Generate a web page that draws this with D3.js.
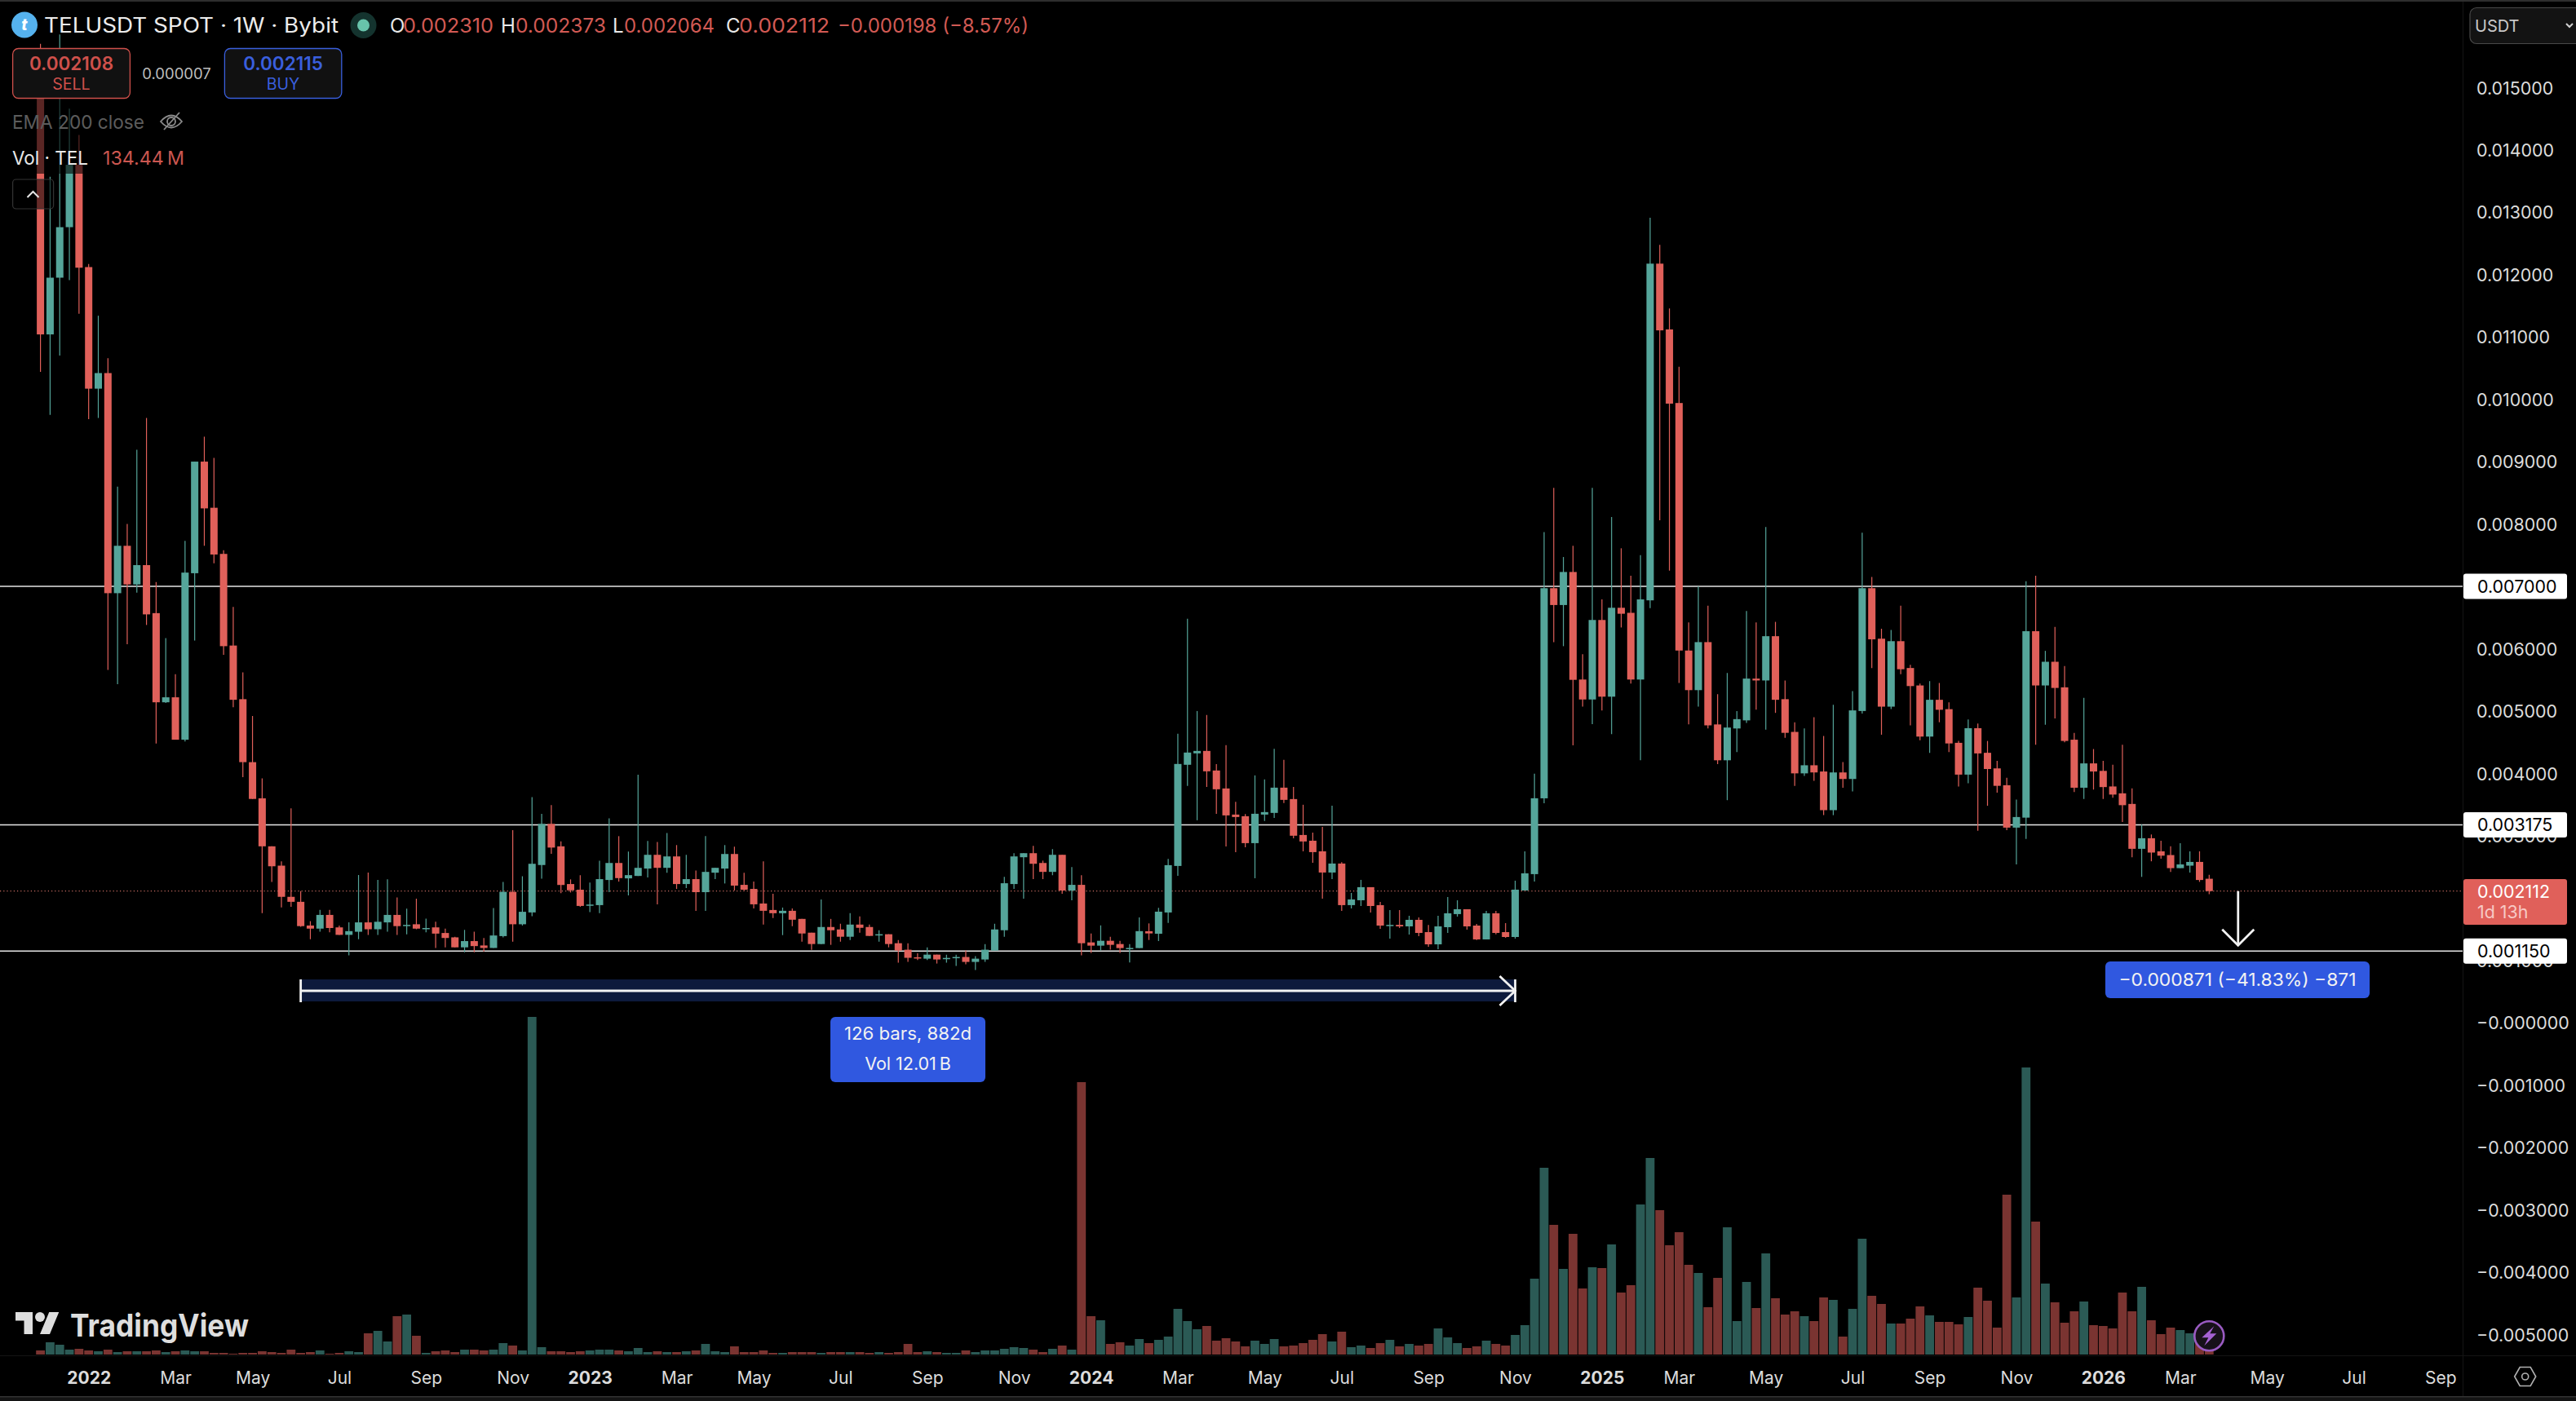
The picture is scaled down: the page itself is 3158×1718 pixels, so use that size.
<!DOCTYPE html>
<html><head><meta charset="utf-8">
<style>html,body{margin:0;padding:0;background:#000}svg{display:block}text{font-family:Inter,"Noto Sans",sans-serif}</style>
<script src="https://cdn.jsdelivr.net/npm/d3@7"></script>
</head><body><svg id="c" width="3158" height="1718"></svg>
<script>
// prices in thousandths of a USDT (0.001), one weekly bar each
const firstWeek = "2021-11-29", lastWeek = "2026-03-23";
const opens = [
15.48,11.04,11.95,12.76,13.76,12.12,10.17,10.42,6.89,7.65,
7.03,7.34,6.57,5.14,5.22,4.54,7.21,9.00,8.26,7.52,
6.05,5.19,4.18,3.60,2.83,2.52,2.02,1.94,1.56,1.51,
1.73,1.53,1.41,1.46,1.61,1.50,1.61,1.73,1.56,1.58,
1.51,1.53,1.44,1.37,1.21,1.31,1.24,1.20,1.39,2.10,
1.58,1.77,2.53,3.19,2.83,2.225,2.134,1.88,1.887,2.29,
2.563,2.316,2.355,2.473,2.694,2.485,2.668,2.225,2.304,2.095,
2.407,2.473,2.707,2.212,2.147,1.913,1.809,1.757,1.796,1.666,
1.445,1.263,1.536,1.497,1.38,1.575,1.536,1.41,1.42,1.276,
1.172,1.05,1.028,1.093,1.02,1.05,1.055,0.976,1.015,1.159,
1.484,2.225,2.655,2.72,2.563,2.42,2.694,2.121,2.212,1.289,
1.237,1.315,1.263,1.19,1.198,1.468,1.428,1.769,2.515,4.138,
4.321,4.36,4.046,3.758,3.339,3.313,2.881,3.339,3.366,3.771,
3.588,3.012,2.92,2.75,2.41,2.554,1.887,1.965,2.175,1.887,
1.56,1.57,1.546,1.651,1.454,1.258,1.533,1.743,1.821,1.559,
1.337,1.756,1.454,1.376,2.122,2.384,3.60,6.97,6.70,7.23,
5.505,5.185,6.46,5.23,6.656,6.575,5.505,6.775,12.175,11.12,
9.94,5.97,5.335,6.105,4.785,4.21,4.72,4.85,5.52,5.49,
6.2,5.19,4.665,4.0,4.13,4.03,3.41,4.015,3.91,5.0,
6.97,6.16,5.07,6.12,5.69,5.41,4.59,5.18,5.03,4.49,
3.98,4.725,4.33,4.08,3.81,3.13,3.29,6.28,5.41,5.79,
5.38,4.54,3.77,4.16,4.04,3.79,3.68,3.51,2.79,2.96,
2.75,2.69,2.48,2.52,2.58,2.31];
const closes = [
11.04,11.95,12.76,13.76,12.11,10.17,10.42,6.89,7.65,7.03,
7.34,6.55,5.14,5.22,4.54,7.22,9.00,8.25,7.51,6.04,
5.18,4.18,3.59,2.83,2.51,2.02,1.94,1.55,1.51,1.73,
1.52,1.41,1.47,1.61,1.50,1.62,1.73,1.55,1.57,1.51,
1.52,1.43,1.36,1.21,1.31,1.23,1.20,1.40,2.10,1.58,
1.78,2.55,3.19,2.81,2.21,2.125,1.874,1.896,2.304,2.563,
2.32,2.368,2.485,2.694,2.485,2.668,2.225,2.304,2.095,2.42,
2.485,2.707,2.2,2.134,1.90,1.796,1.757,1.796,1.653,1.432,
1.263,1.536,1.484,1.38,1.575,1.523,1.393,1.42,1.263,1.159,
1.042,1.04,1.093,1.015,1.04,1.055,0.976,1.028,1.172,1.497,
2.238,2.668,2.72,2.55,2.42,2.694,2.121,2.212,1.276,1.237,
1.315,1.25,1.198,1.20,1.47,1.433,1.782,2.528,4.151,4.334,
4.36,4.033,3.745,3.326,3.30,2.881,3.352,3.379,3.771,3.575,
3.0,2.908,2.737,2.41,2.554,1.887,1.978,2.175,1.873,1.559,
1.57,1.546,1.651,1.441,1.258,1.546,1.756,1.821,1.546,1.337,
1.756,1.441,1.376,2.135,2.397,3.601,6.97,6.70,7.23,5.50,
5.185,6.46,5.23,6.656,6.56,5.505,6.79,12.175,11.105,9.93,
5.97,5.335,6.105,4.77,4.21,4.735,4.87,5.52,5.49,6.2,
5.18,4.65,4.0,4.13,4.015,3.41,4.015,3.91,5.01,6.97,
6.15,5.07,6.12,5.67,5.40,4.59,5.18,5.02,4.48,3.98,
4.725,4.32,4.07,3.80,3.13,3.30,6.28,5.41,5.79,5.37,
4.52,3.77,4.16,4.03,3.78,3.66,3.49,2.79,2.96,2.73,
2.68,2.48,2.54,2.58,2.29,2.112];
const highs = [
15.70,13.57,15.85,14.66,14.24,12.17,11.34,10.66,8.60,8.00,
9.19,9.70,7.07,6.17,5.59,7.73,9.00,9.40,9.06,7.58,
6.67,5.62,4.92,3.92,2.83,2.59,3.44,2.11,1.63,1.81,
1.81,1.56,1.61,2.37,2.41,2.29,2.30,2.01,1.83,1.99,
1.67,1.62,1.51,1.38,1.49,1.46,1.36,1.84,2.26,3.09,
2.35,3.62,3.35,3.49,2.91,2.30,2.368,2.25,2.60,3.28,
2.993,2.746,3.98,2.915,2.90,3.045,2.85,2.694,2.442,2.993,
2.485,2.85,2.824,2.407,2.264,2.59,2.07,1.848,1.835,1.666,
1.445,1.978,1.666,1.588,1.757,1.705,1.575,1.484,1.42,1.328,
1.276,1.115,1.21,1.093,1.093,1.093,1.159,1.067,1.263,1.588,
2.342,2.72,2.72,2.837,2.60,2.785,2.694,2.499,2.368,1.432,
1.562,1.38,1.315,1.263,1.69,1.594,1.843,2.628,4.635,6.48,
5.0,4.936,4.147,4.452,3.544,3.348,3.968,3.903,4.395,4.216,
3.784,3.497,3.051,3.143,3.483,2.576,2.083,2.292,2.175,1.939,
1.808,1.808,1.716,1.69,1.57,1.716,2.017,1.965,1.821,1.585,
1.795,1.795,1.599,2.279,2.75,3.994,7.87,8.58,7.47,7.65,
5.91,8.58,6.79,8.11,7.61,7.17,7.50,12.91,12.475,11.455,
10.52,6.42,7.0,6.69,5.27,5.61,5.0,6.605,6.42,7.95,
6.43,5.49,4.82,4.72,4.90,4.60,5.10,4.18,5.32,7.86,
7.15,6.32,6.30,6.69,5.74,5.44,5.48,5.45,5.14,4.52,
4.865,4.80,4.52,4.20,3.93,3.58,7.08,7.17,5.965,6.35,
5.72,4.65,5.21,4.39,4.20,4.14,4.46,3.76,3.18,3.02,
2.92,2.83,2.88,2.75,2.75,2.373];
const lows = [
10.44,9.75,10.70,11.91,11.37,9.68,9.70,5.66,5.43,6.07,
6.90,6.38,4.48,5.13,4.54,4.51,6.13,7.65,7.37,5.90,
5.06,3.94,3.59,1.76,2.26,1.85,1.86,1.54,1.34,1.46,
1.45,1.41,1.08,1.34,1.41,1.41,1.46,1.41,1.42,1.50,
1.45,1.20,1.21,1.21,1.13,1.13,1.14,1.20,1.37,1.30,
1.56,1.71,2.31,2.71,2.08,2.09,1.86,1.774,1.757,2.095,
2.264,2.043,2.355,2.33,1.90,2.407,2.147,2.16,1.796,1.796,
2.304,2.234,2.12,2.12,1.835,1.575,1.679,1.406,1.549,1.302,
1.171,1.263,1.25,1.302,1.328,1.445,1.393,1.302,1.21,0.963,
0.976,1.006,1.006,0.95,0.963,0.91,0.937,0.846,0.976,1.159,
1.38,2.147,1.99,2.304,2.304,2.368,2.07,1.965,1.08,1.12,
1.159,1.172,1.12,0.966,1.198,1.328,1.31,1.60,2.358,3.798,
3.248,3.784,3.352,2.829,2.737,2.816,2.318,3.235,3.287,3.523,
2.96,2.75,2.567,1.991,2.305,1.795,1.834,1.873,1.769,1.507,
1.35,1.52,1.415,1.389,1.219,1.18,1.442,1.703,1.494,1.328,
1.337,1.42,1.363,1.35,2.122,2.266,3.52,6.105,6.04,4.45,
5.07,4.79,5.01,4.63,6.34,5.44,4.21,6.65,8.06,7.25,
5.45,4.785,5.07,4.72,4.15,3.57,4.34,4.81,5.02,4.70,
4.97,4.57,3.80,3.96,3.88,3.33,3.33,3.77,3.71,4.96,
5.69,4.62,5.03,5.59,4.77,4.53,4.33,4.82,4.34,3.79,
3.84,3.08,3.48,3.69,3.09,2.54,2.95,4.46,4.78,4.88,
4.50,3.70,3.59,3.74,3.59,3.61,3.22,2.655,2.34,2.59,
2.63,2.42,2.48,2.41,2.26,2.064];
// traded volume, millions of TEL
const volumes = [
35,105,84,42,49,35,28,42,21,28,
28,28,35,21,28,35,28,28,14,14,
7,14,14,28,21,14,42,14,21,35,
7,14,28,21,182,203,112,329,343,161,
14,28,35,21,42,42,35,42,98,77,
35,2898,63,28,28,21,28,35,42,42,
35,28,56,21,28,21,21,28,35,91,
28,21,70,21,21,35,14,14,21,21,
21,14,21,21,21,21,14,21,14,21,
91,21,28,21,14,14,35,21,35,35,
49,63,56,42,21,49,77,42,2338,329,
294,91,105,77,133,98,126,154,392,287,
217,245,119,140,112,70,119,91,133,70,
77,98,126,175,112,196,63,77,56,98,
126,70,91,77,91,224,147,98,56,70,
119,91,77,168,252,651,1603,1113,735,1036,
567,749,742,945,532,595,1288,1687,1239,938,
1050,770,700,406,658,1092,287,623,399,868,
483,343,371,329,287,490,469,154,392,994,
504,434,266,266,308,413,336,280,280,259,
322,574,462,231,1372,490,2464,1141,609,448,
273,371,455,252,245,224,532,371,581,294,
175,231,210,182,112,134];
// 0.007000 and 0.002000 sit wholly behind the price tags, so they are not listed
const priceTicks = [15,14,13,12,11,10,9,8,6,5,4,3,1,0,-1,-2,-3,-4,-5];
const levels = [7.0,3.175,1.15];
const lastPrice = 2.112;
const timeTickDates = ["2022-01-03","2022-03-07","2022-05-02","2022-07-04","2022-09-05","2022-11-07","2023-01-02","2023-03-06","2023-05-01","2023-07-03","2023-09-04","2023-11-06","2024-01-01","2024-03-04","2024-05-06","2024-07-01","2024-09-02","2024-11-04","2025-01-06","2025-03-03","2025-05-05","2025-07-07","2025-09-01","2025-11-03","2026-01-05","2026-03-02","2026-05-04","2026-07-06","2026-09-07"];
const timeTickLabels = ["2022","Mar","May","Jul","Sep","Nov","2023","Mar","May","Jul","Sep","Nov","2024","Mar","May","Jul","Sep","Nov","2025","Mar","May","Jul","Sep","Nov","2026","Mar","May","Jul","Sep"];
const rangeStart = "2022-06-06", rangeEnd = "2024-11-04"; // 126 bars
const arrowWeek = "2026-04-13";
const arrowFrom = 2.112, arrowTo = 1.241;

const RED="#e0605a", GREEN="#55a59a", VRED="#7a3431", VGREEN="#2b5a55";
const svg=d3.select("#c");
const W=3158,H=1718,AX=3019;
svg.append("rect").attr("width",W).attr("height",H).attr("fill","#000");

const parse=d3.utcParse("%Y-%m-%d");
const x=d3.scaleUtc().domain([parse(firstWeek),parse(lastWeek)]).range([49.6,2708.3]);
const y=d3.scaleLinear().domain([-5,15]).range([1636.5,107.3]);
const yv=d3.scaleLinear().domain([0,3500]).range([1661,1161]);
const bars=opens.map((o,i)=>({t:d3.utcWeek.offset(parse(firstWeek),i),o,c:closes[i],h:highs[i],l:lows[i],v:volumes[i]}));

// frame
svg.append("rect").attr("width",W).attr("height",2).attr("fill","#2e2e2e");
svg.append("rect").attr("y",1712).attr("width",W).attr("height",6).attr("fill","#141414");
svg.append("rect").attr("y",1712).attr("width",W).attr("height",1.5).attr("fill","#333");
svg.append("rect").attr("x",AX).attr("width",1).attr("y",2).attr("height",1710).attr("fill","#141414");
svg.append("rect").attr("y",1662).attr("width",W).attr("height",1).attr("fill","#141414");

// price axis
const yAxis=d3.axisRight(y).tickValues(priceTicks).tickSize(0).tickPadding(0)
  .tickFormat(v=>v>0?(v/1000).toFixed(6):"\u2212"+Math.abs(v/1000).toFixed(6));
const ga=svg.append("g").attr("transform","translate(3036,0)").call(yAxis);
ga.select(".domain").remove();
ga.selectAll("text").attr("dy","0.36em").attr("fill","#dcdcdc").attr("font-size",21.4).attr("font-family","Inter");

// time axis
const labelOf=new Map(timeTickDates.map((d,i)=>[+parse(d),timeTickLabels[i]]));
const xAxis=d3.axisBottom(x).tickValues(timeTickDates.map(parse)).tickSize(0).tickPadding(0)
  .tickFormat(d=>labelOf.get(+d));
const gx=svg.append("g").attr("transform","translate(0,1689)").call(xAxis);
gx.select(".domain").remove();
gx.selectAll("text").attr("dy","0.36em").attr("fill","#dcdcdc").attr("font-size",21).attr("font-family","Inter")
  .attr("font-weight",function(){return /^\d/.test(this.textContent)?700:400});

// level lines and last price
svg.append("g").selectAll("line").data(levels).join("line")
  .attr("x1",0).attr("x2",AX).attr("y1",y).attr("y2",y).attr("stroke","#e6e6e6").attr("stroke-width",1.6);
svg.append("line").attr("x1",0).attr("x2",AX).attr("y1",y(lastPrice)).attr("y2",y(lastPrice))
  .attr("stroke","#c4695f").attr("stroke-width",1.2).attr("stroke-dasharray","1.2 3");

// volume
svg.append("g").selectAll("rect").data(bars).join("rect")
  .attr("x",d=>x(d.t)-5.4).attr("width",10.8)
  .attr("y",d=>yv(d.v)).attr("height",d=>yv(0)-yv(d.v))
  .attr("fill",d=>d.c>=d.o?VGREEN:VRED);

// wicks
svg.append("g").selectAll("line").data(bars).join("line")
  .attr("x1",d=>x(d.t)).attr("x2",d=>x(d.t)).attr("y1",d=>y(d.h)).attr("y2",d=>y(d.l))
  .attr("stroke",d=>d.c>=d.o?GREEN:RED).attr("stroke-width",1.2);
// bodies
svg.append("g").selectAll("rect").data(bars).join("rect")
  .attr("x",d=>x(d.t)-4.5).attr("width",9)
  .attr("y",d=>y(Math.max(d.o,d.c)))
  .attr("height",d=>Math.max(1.5,Math.abs(y(d.o)-y(d.c))))
  .attr("fill",d=>d.c>=d.o?GREEN:RED);

function T(s,xx,yy,o={}){
  const t=svg.append("text").attr("x",xx).attr("y",yy).attr("dy","0.36em").text(s)
   .attr("font-size",o.size||21).attr("fill",o.fill||"#e8e8e8")
   .attr("font-weight",o.w||400).attr("text-anchor",o.a||"start");
  if(o.len) t.attr("textLength",o.len).attr("lengthAdjust","spacingAndGlyphs");
  return t;
}

// date range measure
const rx0=x(parse(rangeStart)), rx1=x(parse(rangeEnd));
svg.append("rect").attr("x",rx0).attr("width",rx1-rx0).attr("y",1201).attr("height",27).attr("fill","#0d1a3c");
const wl=svg.append("g").attr("stroke","#f2f2f2").attr("fill","none").attr("stroke-width",2.8);
wl.append("line").attr("x1",rx0).attr("x2",rx1).attr("y1",1215).attr("y2",1215);
wl.append("line").attr("x1",rx0).attr("x2",rx0).attr("y1",1201).attr("y2",1229);
wl.append("line").attr("x1",rx1).attr("x2",rx1).attr("y1",1201).attr("y2",1229);
wl.append("path").attr("d",`M${rx1-19},1197L${rx1},1215L${rx1-19},1233`);
svg.append("rect").attr("x",1018).attr("y",1247).attr("width",190).attr("height",80).attr("rx",6).attr("fill","#3058e0");
T("126 bars, 882d",1113,1267,{a:"middle",fill:"#f2f2f2",size:21.5,len:156});
T("Vol 12.01\u202FB",1113,1304,{a:"middle",fill:"#f2f2f2",size:21.5});

// price measure
const ax=x(parse(arrowWeek));
const al=svg.append("g").attr("stroke","#f2f2f2").attr("fill","none").attr("stroke-width",2.8);
al.append("line").attr("x1",ax).attr("x2",ax).attr("y1",y(arrowFrom)).attr("y2",y(arrowTo));
al.append("path").attr("d",`M${ax-19.5},${y(arrowTo)-19.5}L${ax},${y(arrowTo)}L${ax+19.5},${y(arrowTo)-19.5}`);
svg.append("rect").attr("x",2581).attr("y",1179).attr("width",324).attr("height",45).attr("rx",6).attr("fill","#3058e0");
T("\u22120.000871 (\u221241.83%) \u2212871",2743,1201,{a:"middle",fill:"#f2f2f2",size:21.5,len:291});

// price labels
function tag(v,s){
  const yy=y(v);
  svg.append("rect").attr("x",AX+1).attr("y",yy-15.5).attr("width",127).attr("height",31).attr("rx",3).attr("fill","#fff");
  T(s,3037,yy,{fill:"#000",size:21.4});
}
tag(levels[0],"0.007000");tag(levels[1],"0.003175");tag(levels[2],"0.001150");
svg.append("rect").attr("x",AX+1).attr("y",1078).attr("width",127).attr("height",56).attr("rx",3).attr("fill",RED);
T("0.002112",3037,1093,{fill:"#fff",size:21.4});
T("1d 13h",3037,1118,{fill:"#f7c9c5",size:21.4});

// legend overlay that dims what lies behind it
svg.append("rect").attr("x",0).attr("y",120).attr("width",240).attr("height",93).attr("fill","rgba(0,0,0,.6)");

// header
svg.append("circle").attr("cx",30).attr("cy",30.5).attr("r",16).attr("fill","#55b2ee");
T("t",30,30,{a:"middle",size:19,w:800,fill:"#fff"}).attr("font-style","italic");
T("TELUSDT SPOT \u00b7 1W \u00b7 Bybit",54,31,{size:25,fill:"#ececec",len:361});
svg.append("circle").attr("cx",445.5).attr("cy",31).attr("r",16).attr("fill","#14332e");
svg.append("circle").attr("cx",445.5).attr("cy",31).attr("r",7.5).attr("fill","#68c3ab");
const LV="#d25a54";
[["O",478,"0.002310",494],["H",614,"0.002373",632],["L",751,"0.002064",765],["C",890,"0.002112",906]].forEach(a=>{
  T(a[0],a[1],31,{size:24,fill:"#e8e8e8"});T(a[2],a[3],31,{size:24,fill:LV,len:111});
});
T("\u22120.000198 (\u22128.57%)",1027,31,{size:24,fill:LV,len:234});

// sell / buy
function box(x0,w,col,a,b){
  svg.append("rect").attr("x",x0).attr("y",59.5).attr("width",w).attr("height",61).attr("rx",7).attr("fill","#111").attr("stroke",col).attr("stroke-width",1.3);
  T(a,x0+w/2,78,{a:"middle",size:22.5,fill:col,w:600});
  T(b,x0+w/2,103,{a:"middle",size:19.5,fill:col});
}
box(15.6,143.8,"#cf504b","0.002108","SELL");
box(275.4,143.4,"#3a5fdd","0.002115","BUY");
T("0.000007",216.5,90,{a:"middle",size:18.5,fill:"#bdbdbd"});

// legend rows
T("EMA 200 close",15,150,{size:23.5,fill:"#5c5c5c",len:162});
const eye=svg.append("g").attr("transform","translate(210,149)").attr("fill","none").attr("stroke","#8c8c8c").attr("stroke-width",1.8);
eye.append("path").attr("d","M-13,0Q0,-15 13,0Q0,15 -13,0Z");
eye.append("circle").attr("r",5);
eye.append("line").attr("x1",-9).attr("y1",10).attr("x2",10).attr("y2",-11);
T("Vol \u00b7 TEL",15,194,{size:23.5,fill:"#e8e8e8",len:93});
T("134.44\u202FM",126,194,{size:23.5,fill:"#cc5750",len:100});
svg.append("rect").attr("x",15.6).attr("y",220).attr("width",50).attr("height",36).attr("rx",4).attr("fill","rgba(0,0,0,.55)").attr("stroke","#333").attr("stroke-width",1.2);
svg.append("path").attr("d","M33.5,242L40.5,235L47.5,242").attr("fill","none").attr("stroke","#e8e8e8").attr("stroke-width",2);

// currency selector
svg.append("rect").attr("x",3028).attr("y",9.5).attr("width",150).attr("height",44).attr("rx",8).attr("fill","#131313").attr("stroke","#484848").attr("stroke-width",1.2);
T("USDT",3034,32,{size:20,fill:"#c8c8c8"});
svg.append("path").attr("d","M3146,29L3150,33L3154,29").attr("fill","none").attr("stroke","#d0d0d0").attr("stroke-width",2);

// watermark
const wm=svg.append("g").attr("transform","translate(19,1603) scale(1.5)").attr("fill","#dedede");
wm.append("path").attr("d","M14 22H7V11H0V4h14v18zM28 22h-8l7.5-18h8L28 22z");
wm.append("circle").attr("cx",20).attr("cy",8).attr("r",4);
T("TradingView",86,1625,{size:38,w:700,fill:"#dedede",len:219});

// lightning marker
const mx=x(parse(lastWeek));
svg.append("circle").attr("cx",mx).attr("cy",1638.3).attr("r",18).attr("fill","#171119").attr("stroke","#9a5bc2").attr("stroke-width",2.6);
svg.append("path").attr("d",`M${mx+6},${1638.3-12}L${mx-9},${1638.3+2}L${mx-1},${1638.3+2}L${mx-6},${1638.3+12}L${mx+9},${1638.3-3}L${mx+1},${1638.3-3}Z`).attr("fill","#a561d2");

// settings
const cg=svg.append("g").attr("transform","translate(3095.7,1688)").attr("fill","none").attr("stroke","#b0b0b0").attr("stroke-width",1.6);
cg.append("path").attr("d","M-13,0L-6.5,-11.5L6.5,-11.5L13,0L6.5,11.5L-6.5,11.5Z");
cg.append("circle").attr("r",4);
</script></body></html>
